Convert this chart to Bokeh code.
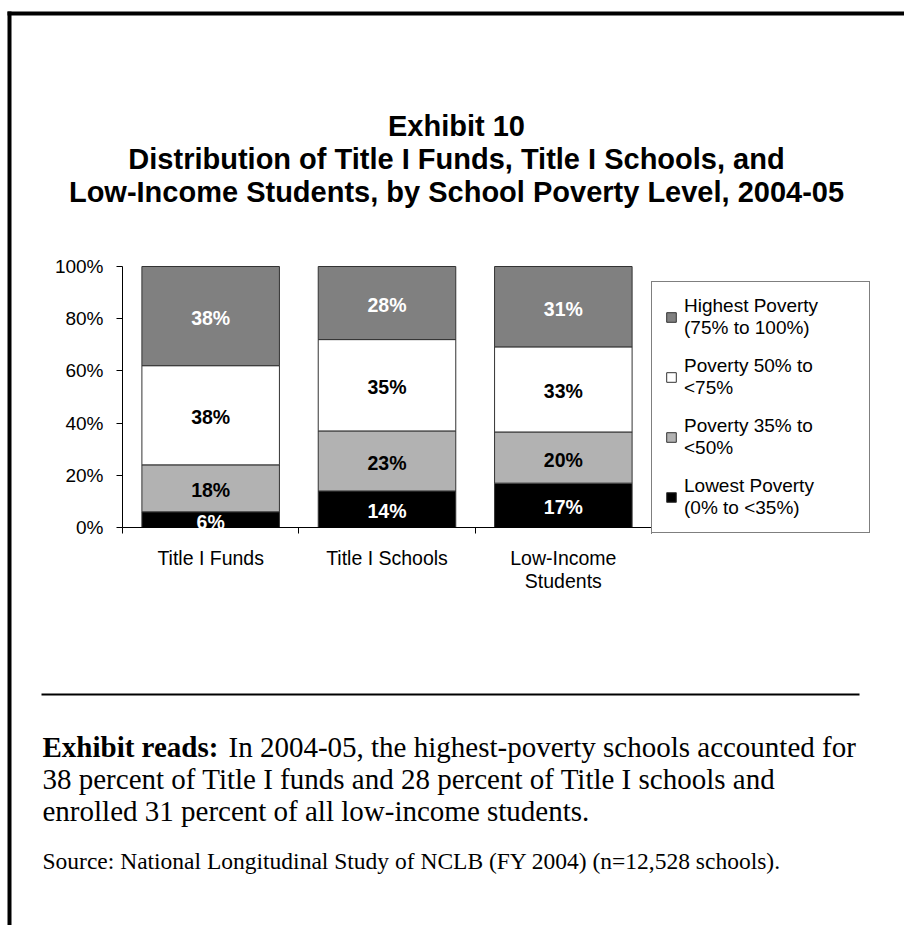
from bokeh.plotting import figure
from bokeh.models import (ColumnDataSource, FixedTicker, LabelSet, Label, Legend,
                          LegendItem, BoxAnnotation, Range1d)
from bokeh.core.properties import value
from bokeh.embed import file_html
from bokeh.resources import INLINE

# ---------------- data ----------------
categories = ["Title I Funds", "Title I Schools", "Low-Income\nStudents"]
series_keys = ["lowest", "pov35", "pov50", "highest"]
series_names = ["Lowest Poverty\n(0% to <35%)", "Poverty 35% to\n<50%",
                "Poverty 50% to\n<75%", "Highest Poverty\n(75% to 100%)"]
lowest = [6, 14, 17]
pov35 = [18, 23, 19.6]
pov50 = [38, 35, 32.6]
highest = [38, 28, 30.8]
y_ticks = [0, 20, 40, 60, 80, 100]

title_lines = ["Exhibit 10",
               "Distribution of Title I Funds, Title I Schools, and",
               "Low-Income Students, by School Poverty Level, 2004-05"]
reads_bold = "Exhibit reads:"
reads_lines = ["In 2004-05, the highest-poverty schools accounted for",
               "38 percent of Title I funds and 28 percent of Title I schools and",
               "enrolled 31 percent of all low-income students."]
source_text = "Source:  National Longitudinal Study of NCLB (FY 2004) (n=12,528 schools)."

# ---------------- styles / layout ----------------
colors = ["#000000", "#b2b2b2", "#ffffff", "#808080"]
label_colors = ["#ffffff", "#000000", "#000000", "#ffffff"]
SANS = "Liberation Sans"
SERIF = "Liberation Serif"

PW, PH = 904, 925
# page pixel box of the plotting area
PL, PR, PT, PB = 122, 651, 266, 527
NCAT, YMAX = len(categories), 100
kx = (PR - PL) / NCAT
ky = (PB - PT) / YMAX
x_range = Range1d(-PL / kx, NCAT + (PW - PR) / kx)
y_range = Range1d(-(PH - PB) / ky, YMAX + PT / ky)

p = figure(width=PW, height=PH, x_range=x_range, y_range=y_range,
           output_backend="svg", toolbar_location=None, min_border=0,
           outline_line_color=None, background_fill_color="white",
           border_fill_color="white")
p.xgrid.visible = False
p.ygrid.visible = False

xs = [i + 0.5 for i in range(NCAT)]
src = ColumnDataSource(dict(x=xs, lowest=lowest, pov35=pov35, pov50=pov50, highest=highest))
renderers = p.vbar_stack(series_keys, x="x", width=0.78, source=src,
                         fill_color=colors, line_color="#333333", line_width=1)

lx, ly, lt, lc = [], [], [], []
series_vals = [lowest, pov35, pov50, highest]
for ci in range(NCAT):
    base = 0
    for si, vals in enumerate(series_vals):
        v = vals[ci]
        lx.append(xs[ci])
        ly.append(base + v / 2)
        lt.append(f"{round(v)}%")
        lc.append(label_colors[si])
        base += v
lsrc = ColumnDataSource(dict(x=lx, y=ly, text=lt, color=lc))
p.add_layout(LabelSet(x="x", y="y", text="text", source=lsrc, text_color="color",
                      text_align="center", text_baseline="middle", y_offset=-2,
                      text_font=value(SANS), text_font_style="bold",
                      text_font_size="19.5px"))

# axes drawn at fixed data locations inside the (full-page) frame
ya = p.yaxis[0]
ya.fixed_location = 0
ya.bounds = (0, YMAX)
ya.ticker = FixedTicker(ticks=y_ticks, minor_ticks=[])
ya.major_label_overrides = {t: f"{t}%" for t in y_ticks}
ya.major_tick_in = 0
ya.major_tick_out = 6
ya.minor_tick_out = 0
ya.minor_tick_in = 0
ya.major_label_standoff = 13
ya.axis_line_color = "black"
ya.major_tick_line_color = "black"
ya.major_label_text_font = SANS
ya.major_label_text_font_size = "19px"
ya.major_label_text_color = "black"

xa = p.xaxis[0]
xa.fixed_location = 0
xa.bounds = (0, NCAT)
xa.ticker = FixedTicker(ticks=xs, minor_ticks=list(range(NCAT + 1)))
xa.major_label_overrides = {x: c for x, c in zip(xs, categories)}
xa.major_tick_in = 0
xa.major_tick_out = 0
xa.minor_tick_in = 0
xa.minor_tick_out = 6
xa.minor_tick_line_color = "black"
xa.major_label_standoff = 13
xa.axis_line_color = "black"
xa.major_label_text_font = SANS
xa.major_label_text_font_size = "19.5px"
xa.major_label_text_line_height = 1.05
xa.major_label_text_color = "black"

# legend (screen units relative to the frame = whole page, y upwards)
items = [LegendItem(label=series_names[i], renderers=[renderers[i]]) for i in (3, 2, 1, 0)]
legend = Legend(items=items, location=(651, PH - 533), margin=0,
                padding=13, spacing=16, glyph_width=12, glyph_height=12,
                label_standoff=7, label_width=172,
                label_text_font=SANS, label_text_font_size="19px",
                label_text_color="black", label_text_line_height=0.825,
                border_line_color="black", border_line_width=1,
                background_fill_color="white", background_fill_alpha=1)
p.add_layout(legend, "center")


def sy(Y):
    return PH - Y


def bar(x0, y0, x1, y1):
    p.add_layout(BoxAnnotation(left=x0, right=x1, top=sy(y0), bottom=sy(y1),
                               left_units="screen", right_units="screen",
                               top_units="screen", bottom_units="screen",
                               fill_color="black", fill_alpha=1, line_alpha=0))


def label(x, Y, text, size, font=SANS, style="normal", align="left"):
    p.add_layout(Label(x=x, y=sy(Y), x_units="screen", y_units="screen",
                       text=text, text_align=align, text_baseline="middle",
                       text_font=font, text_font_style=style,
                       text_font_size=size, text_color="black"))


bar(7, 11, 11, PH)       # left border
bar(7, 11, PW, 15)       # top border
bar(41, 693, 859, 695)   # rule

for txt, Y in zip(title_lines, [125, 158, 191]):
    label(456, Y, txt, "29px", style="bold", align="center")

label(42, 746, reads_bold, "29px", font=SERIF, style="bold")
label(228, 746, reads_lines[0], "29px", font=SERIF)
label(42, 778, reads_lines[1], "29px", font=SERIF)
label(42, 810, reads_lines[2], "29px", font=SERIF)
label(42, 860, source_text, "23.5px", font=SERIF)

open("out.html", "w").write(file_html(p, INLINE))
